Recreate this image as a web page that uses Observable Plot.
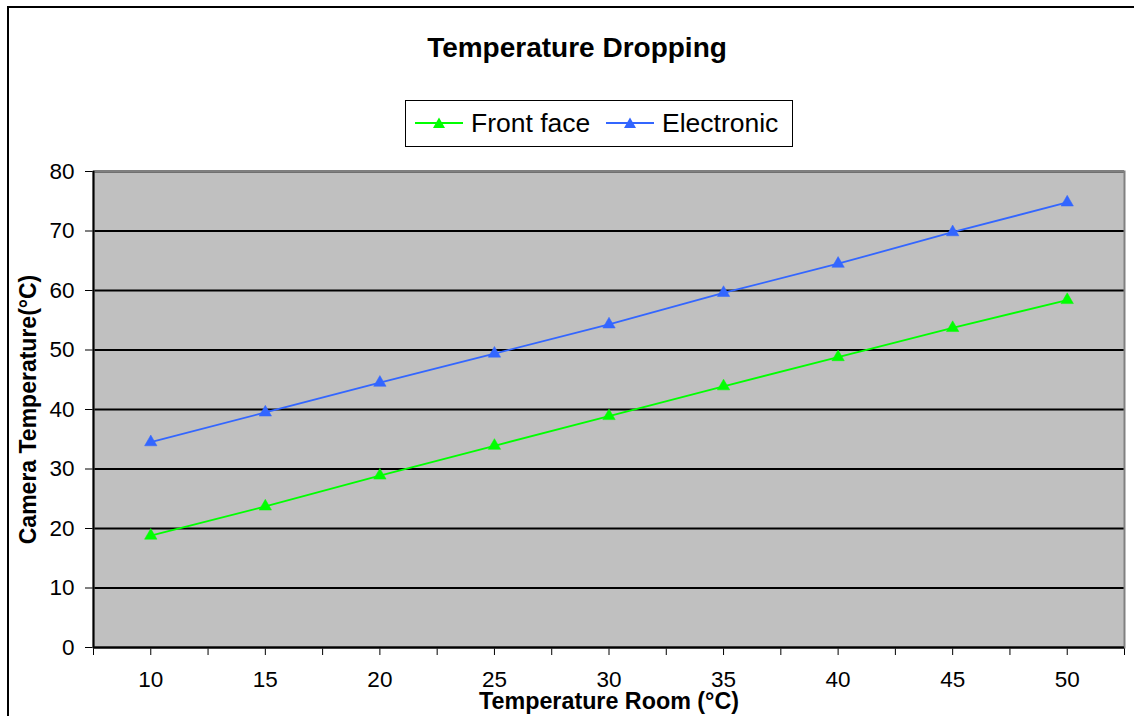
<!DOCTYPE html>
<html>
<head>
<meta charset="utf-8">
<script src="https://cdn.jsdelivr.net/npm/d3@7"></script>
<script src="https://cdn.jsdelivr.net/npm/@observablehq/plot@0.6"></script>
<style>
  html, body { margin: 0; padding: 0; background: #fff; overflow: hidden; }
  body { width: 1134px; height: 716px; position: relative; font-family: "Liberation Sans", Arial, sans-serif; }
  #frame { position: absolute; left: 7px; top: 6px; width: 1300px; height: 900px; border: 2px solid #000; }
  #chart { position: absolute; left: 0; top: 0; }
  #title { position: absolute; left: 327px; width: 500px; top: 34px; text-align: center; font-weight: bold; font-size: 28px; line-height: 27px; color: #000; }
  #legend { position: absolute; left: 405px; top: 100px; width: 388px; height: 47px; box-sizing: border-box; border: 1.5px solid #000; background: #fff; }
  .lg-item { position: absolute; top: 0; height: 44px; display: flex; align-items: center; }
  .lg-item span { font-size: 26.5px; line-height: 26.5px; color: #000; margin-left: 8px; }
</style>
</head>
<body>
<div id="frame"></div>
<div id="chart"></div>
<div id="title"></div>
<div id="legend"></div>
<script>
// ---- data ----
const rooms = [10, 15, 20, 25, 30, 35, 40, 45, 50];
const frontFace = [18.8, 23.7, 28.9, 33.9, 38.9, 43.9, 48.8, 53.7, 58.4];
const electronic = [34.5, 39.5, 44.5, 49.4, 54.3, 59.6, 64.5, 69.8, 74.8];
const seriesNames = ["Front face", "Electronic"];
const seriesColors = ["#00FF00", "#3366FF"];
const yTicks = [0, 10, 20, 30, 40, 50, 60, 70, 80];
const titleText = "Temperature Dropping";
const xTitle = "Temperature Room (°C)";
const yTitle = "Camera Temperature(°C)";

// ---- derived ----
const rows = rooms.flatMap((r, i) => [
  {room: r, temp: frontFace[i], series: seriesNames[0]},
  {room: r, temp: electronic[i], series: seriesNames[1]}
]);
const step = rooms[1] - rooms[0];
const xDomain = [rooms[0] - step / 2, rooms[rooms.length - 1] + step / 2];
const xTickPositions = rooms.flatMap(c => [c - step / 2, c]).concat([xDomain[1]]);

const chart = Plot.plot({
  width: 1134,
  height: 716,
  marginLeft: 93,
  marginRight: 10,
  marginTop: 171,
  marginBottom: 69,
  style: {fontFamily: "'Liberation Sans', Arial, sans-serif", fontSize: "22.5px", color: "#000", background: "transparent", overflow: "visible"},
  x: {type: "linear", domain: xDomain, ticks: xTickPositions, tickSize: 8, tickPadding: 16,
      tickFormat: d => rooms.includes(d) ? String(d) : "", label: null},
  y: {domain: [yTicks[0], yTicks[yTicks.length - 1]], ticks: yTicks, tickSize: 8, tickPadding: 11, label: null},
  color: {domain: seriesNames, range: seriesColors},
  marks: [
    Plot.frame({fill: "#C0C0C0", stroke: null}),
    Plot.ruleY(yTicks, {stroke: "#000", strokeWidth: 2}),
    Plot.frame({stroke: "#808080", strokeWidth: 2, fill: null}),
    Plot.ruleY([yTicks[0]], {stroke: "#000", strokeWidth: 2}),
    Plot.ruleX([xDomain[0]], {stroke: "#000", strokeWidth: 2}),
    Plot.line(rows, {x: "room", y: "temp", z: "series", stroke: "series", strokeWidth: 1.8}),
    Plot.dot(rows, {x: "room", y: "temp", fill: "series", stroke: "series", strokeWidth: 0.5, symbol: "triangle", r: 4.6}),
    Plot.text([xTitle], {frameAnchor: "bottom", dy: 61.5, lineAnchor: "bottom", fontWeight: "bold", fontSize: 23.3, fill: "#000"}),
    Plot.text([yTitle], {frameAnchor: "left", dx: -64.5, rotate: -90, textAnchor: "middle", lineAnchor: "middle", fontWeight: "bold", fontSize: 23, fill: "#000"})
  ]
});
document.getElementById("chart").appendChild(chart);

// ---- title ----
document.getElementById("title").textContent = titleText;

// ---- legend ----
const legend = document.getElementById("legend");
const legendLefts = [9, 200];
seriesNames.forEach((name, i) => {
  const item = document.createElement("div");
  item.className = "lg-item";
  item.style.left = legendLefts[i] + "px";
  const svgNS = "http://www.w3.org/2000/svg";
  const svg = document.createElementNS(svgNS, "svg");
  svg.setAttribute("width", "48");
  svg.setAttribute("height", "16");
  const ln = document.createElementNS(svgNS, "line");
  ln.setAttribute("x1", "0"); ln.setAttribute("x2", "48");
  ln.setAttribute("y1", "8"); ln.setAttribute("y2", "8");
  ln.setAttribute("stroke", seriesColors[i]); ln.setAttribute("stroke-width", "1.8");
  const tri = document.createElementNS(svgNS, "path");
  tri.setAttribute("d", "M24,2.5 L30,13 L18,13 Z");
  tri.setAttribute("fill", seriesColors[i]);
  svg.appendChild(ln); svg.appendChild(tri);
  const span = document.createElement("span");
  span.textContent = name;
  item.appendChild(svg); item.appendChild(span);
  legend.appendChild(item);
});
</script>
</body>
</html>
